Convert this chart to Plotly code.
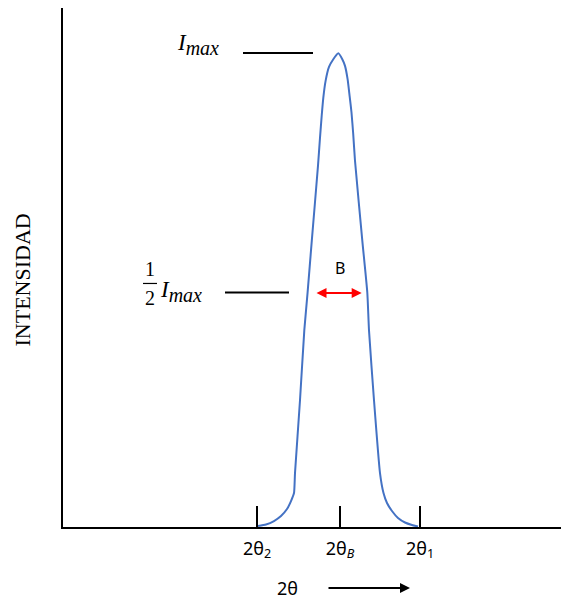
import plotly.graph_objects as go

# ---- data (chart units: x = 2θ position, y = intensity) ----
theta = [195, 203, 211, 218, 224, 228, 231, 232, 237, 241.3, 244.6, 248.8, 255, 257, 258.7, 260.3,
         262.6, 266, 270.3, 275.3,
         279.3, 282, 284.6, 286.6, 288.5, 290.2, 292, 299.3, 304.3, 306, 311, 317, 320.5, 324, 329,
         335, 342, 349, 355]
intensity = [1, 2.5, 6, 11, 18, 26, 34, 54, 127, 197, 235, 287, 362, 390, 412, 430,
             447, 461, 468.7, 474.7,
             468.7, 462, 448.7, 432, 415.3, 394, 367, 287, 235, 197, 127, 54, 34, 24, 16,
             9, 4.5, 2, 0.5]

tick_vals = [194, 277, 357]
tick_text = ["2θ<sub>2</sub>", "2θ<sub><i>B</i></sub>", "2θ<sub>1</sub>"]

i_max = 475
i_half = 235
imax_line_x = [180, 250]
half_line_x = [162, 226]
fwhm_x = [252, 298.7]
fwhm_y = 234.5
axis_label_x = 224
axis_arrow_x = [264, 347]
axis_arrow_y = -61
ylabel_pos = [-41, 247]

x_range = [0, 506]
y_range = [0, 520]


def px(v):
    return (v - x_range[0]) / (x_range[1] - x_range[0])


def py(v):
    return (v - y_range[0]) / (y_range[1] - y_range[0])


fig = go.Figure()
fig.add_trace(go.Scatter(x=theta, y=intensity, mode="lines",
                         line=dict(color="#4472C4", width=2, shape="spline", smoothing=0.5),
                         hoverinfo="skip", showlegend=False))

serif = "Liberation Serif"
sans = "Noto Sans"
imax_text = '<i>I</i><sub><span style="font-size:20px"><i>max</i></span></sub>'

shapes = [
    dict(type="line", xref="x", yref="y", x0=imax_line_x[0], x1=imax_line_x[1], y0=i_max, y1=i_max,
         line=dict(color="black", width=2)),
    dict(type="line", xref="x", yref="y", x0=half_line_x[0], x1=half_line_x[1], y0=i_half, y1=i_half,
         line=dict(color="black", width=2)),
    # fraction bar of 1/2
    dict(type="line", xref="x", yref="y", x0=80, x1=94, y0=244, y1=244,
         line=dict(color="black", width=1.2)),
]

annotations = [
    dict(x=112, y=483, xref="x", yref="y", xanchor="left", yanchor="middle", showarrow=False,
         text=imax_text, font=dict(family=serif, size=23, color="black")),
    dict(x=95, y=236, xref="x", yref="y", xanchor="left", yanchor="middle", showarrow=False,
         text=imax_text, font=dict(family=serif, size=23, color="black")),
    dict(x=87, y=259, xref="x", yref="y", showarrow=False, text="1",
         font=dict(family=serif, size=20, color="black")),
    dict(x=87, y=229, xref="x", yref="y", showarrow=False, text="2",
         font=dict(family=serif, size=20, color="black")),
    dict(x=277, y=260, xref="x", yref="y", showarrow=False, text="B",
         font=dict(family=sans, size=16, color="black")),
    dict(x=fwhm_x[1], y=fwhm_y, ax=fwhm_x[0], ay=fwhm_y, xref="x", yref="y", axref="x", ayref="y",
         text="", showarrow=True, arrowhead=2, arrowside="end+start", arrowsize=1, arrowwidth=2,
         arrowcolor="#FF0000"),
    dict(x=px(axis_label_x), y=py(axis_arrow_y), xref="paper", yref="paper", showarrow=False,
         xanchor="center", yanchor="middle",
         text="2θ", font=dict(family=sans, size=18, color="black")),
    dict(x=px(axis_arrow_x[1]), y=py(axis_arrow_y), xref="paper", yref="paper",
         ax=-(axis_arrow_x[1] - axis_arrow_x[0]), ay=0, text="", showarrow=True, arrowhead=2,
         arrowsize=1, arrowwidth=2, arrowcolor="black"),
    dict(x=px(ylabel_pos[0]), y=py(ylabel_pos[1]), xref="paper", yref="paper", showarrow=False,
         xanchor="center", yanchor="middle",
         text="INTENSIDAD", textangle=-90, font=dict(family=serif, size=22, color="black")),
]

fig.update_layout(
    width=561, height=592,
    margin=dict(l=55, r=0, t=0, b=73, pad=0),
    paper_bgcolor="white", plot_bgcolor="white",
    shapes=shapes, annotations=annotations,
    xaxis=dict(range=x_range, showgrid=False, zeroline=False, showline=True, linecolor="black",
               linewidth=2, ticks="inside", ticklen=21, tickwidth=2, tickcolor="black",
               tickvals=tick_vals, ticktext=tick_text, ticklabelstandoff=4,
               tickfont=dict(family=sans, size=18, color="black")),
    yaxis=dict(range=y_range, showgrid=False, zeroline=False, showline=True, linecolor="black",
               linewidth=2, showticklabels=False, ticks=""),
)

fig.write_html("out.html")
